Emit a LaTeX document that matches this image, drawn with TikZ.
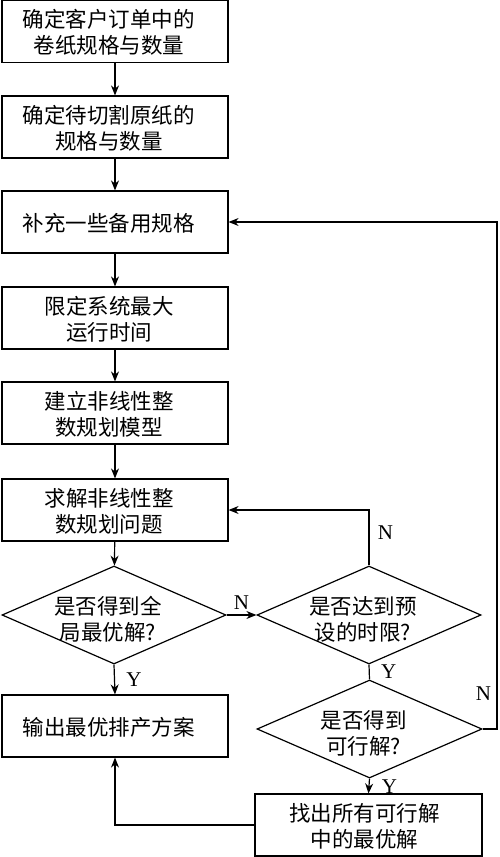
\documentclass[tikz,border=0pt]{standalone}
\usepackage{fontspec}
\newfontfamily\cjk{Noto Sans CJK SC}
\newfontfamily\lat{Liberation Serif}
\usetikzlibrary{shapes.geometric,arrows.meta}
\begin{document}
\begin{tikzpicture}[x=1pt,y=-1pt,
  line width=1.2pt,
  box/.style={draw,rectangle,inner sep=0,minimum width=226,minimum height=62},
  dia/.style={draw,diamond,inner sep=0,minimum width=224,minimum height=98},
  lbl/.style={font=\cjk\fontsize{21.5}{26}\selectfont,align=center,xshift=-6,yshift=-1},
  yn/.style={font=\lat\fontsize{21}{21}\selectfont},
  arr/.style={-{Stealth[length=10pt,width=8pt]}}]
\useasboundingbox (0,0) rectangle (500,857);
\node[box,label={[lbl]center:确定客户订单中的\\卷纸规格与数量}] (b1) at (115,31.5) {};
\node[box,label={[lbl]center:确定待切割原纸的\\规格与数量}] (b2) at (115,127) {};
\node[box,label={[lbl]center:补充一些备用规格}] (b3) at (115,222) {};
\node[box,label={[lbl]center:限定系统最大\\运行时间}] (b4) at (115,318) {};
\node[box,label={[lbl]center:建立非线性整\\数规划模型}] (b5) at (115,413) {};
\node[box,label={[lbl]center:求解非线性整\\数规划问题}] (b6) at (115,510) {};
\node[dia,label={[lbl,yshift=-3]center:是否得到全\\局最优解?}] (d1) at (114,615) {};
\node[dia,label={[lbl,yshift=-3]center:是否达到预\\设的时限?}] (d2) at (369,615) {};
\node[box,label={[lbl]center:输出最优排产方案}] (b7) at (115,726) {};
\node[dia,minimum width=225,label={[lbl,yshift=-3]center:是否得到\\可行解?}] (d3) at (369.5,729) {};
\node[box,minimum width=227,label={[lbl,xshift=2]center:找出所有可行解\\中的最优解}] (b8) at (368.5,825) {};
\coordinate (r1) at (497,729);
\draw[arr] (b1) -- (b2);
\draw[arr] (b2) -- (b3);
\draw[arr] (b3) -- (b4);
\draw[arr] (b4) -- (b5);
\draw[arr] (b5) -- (b6);
\draw[arr] (b6) -- (d1);
\draw[arr] (d1.east) -- node[yn,above=2pt]{N} (d2.west);
\draw[arr] (d2.north) |- node[yn,pos=0.3,right=5pt]{N} (b6.east);
\draw[arr] (d1.south) -- node[yn,right=8pt]{Y} (b7.north);
\draw (d2.south) -- node[yn,right=8pt]{Y} (d3.north);
\draw[arr] (d3.east) -- (d3.east -| r1) |- node[yn,pos=0.035,left=2pt]{N} (b3.east);
\draw[arr] (d3.south) -- node[yn,right=9pt,yshift=-1pt]{Y} (b8.north);
\draw[arr] (b8.west) -| (b7.south);
\end{tikzpicture}
\end{document}
